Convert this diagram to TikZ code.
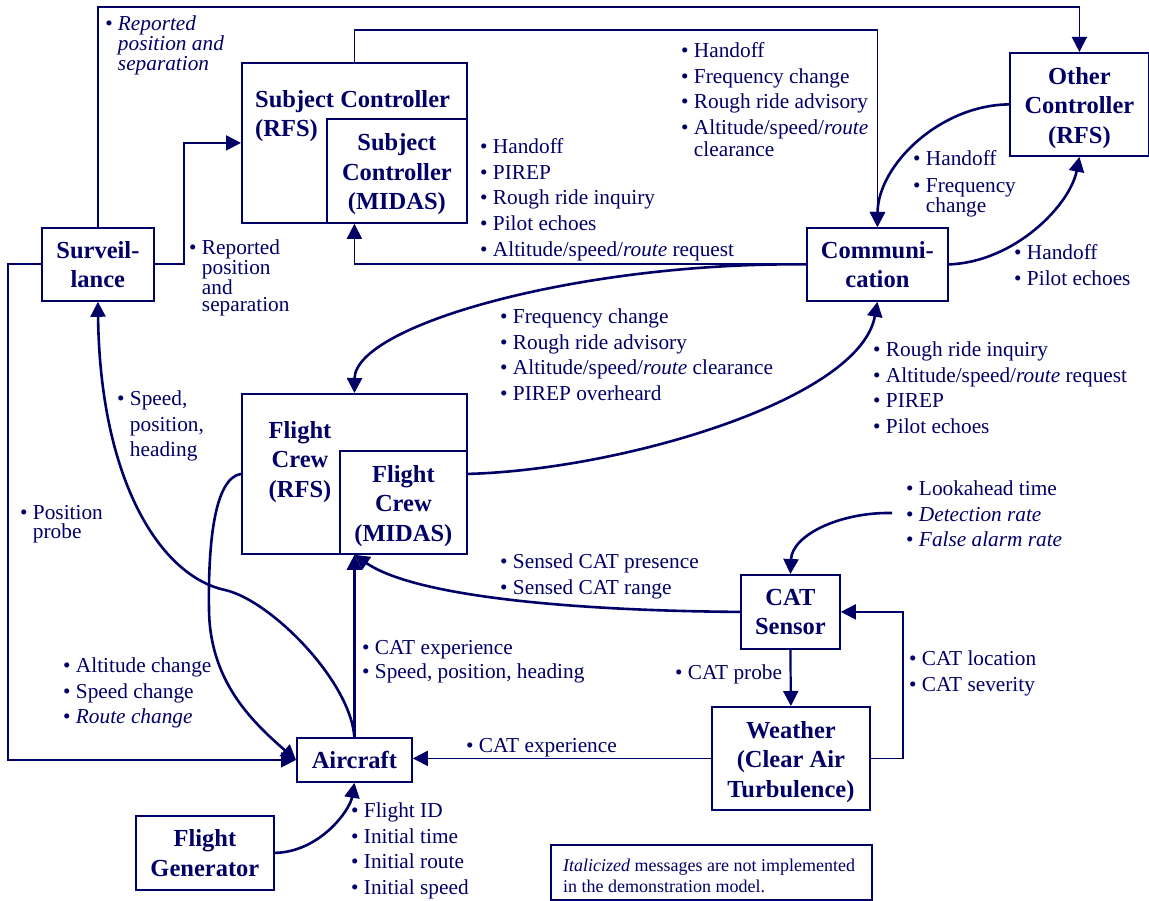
\documentclass[tikz,border=0pt]{standalone}
\usepackage{fontspec}
\setmainfont{Liberation Serif}
\usetikzlibrary{arrows.meta}
\definecolor{navy}{RGB}{0,0,102}
\newcommand\ind{\hspace*{0.6em}}
% taller first line, lowers a three-line box title a little
\newcommand\tl{\rule{0pt}{23.5pt}}
\tikzset{
  box/.style={draw=navy, line width=1.8pt, inner sep=0pt, anchor=north west,
              text=navy, align=center, font=\fontsize{24.5}{29.5}\selectfont\bfseries},
  % multi-line texts placed by the baseline of their first line
  title/.style={text=navy, inner sep=0pt, yshift=16pt,
                font=\fontsize{24.5}{29.5}\selectfont\bfseries},
  msg/.style={text=navy, align=left, inner sep=0pt, anchor=north west, yshift=14.5pt,
              font=\fontsize{21.3}{25.6}\selectfont},
  link/.style={draw=navy, line width=1.8pt, -{Triangle[length=15pt,width=15pt]}},
  curve/.style={link, line width=2.6pt},
}
\begin{document}
\begin{tikzpicture}[x=1pt,y=-1pt]
\useasboundingbox (0,0) rectangle (1149,901);

% ---- boxes ----
\node[box, minimum width=225pt, minimum height=160pt] (scrfs) at (241,62) {};
\node[title, anchor=north west, align=left] (scrfsT) at (255,106) {Subject Controller\\(RFS)};
\node[box, minimum width=140pt, minimum height=104pt] (scm) at (326,118) {\tl Subject\\Controller\\(MIDAS)};
\node[box, minimum width=112pt, minimum height=73pt] (surv) at (41,227) {Surveil-\\lance};
\node[box, minimum width=139pt, minimum height=103pt] (oc) at (1009,52) {\tl Other\\Controller\\(RFS)};
\node[box, minimum width=141pt, minimum height=73pt] (comm) at (806,227) {Communi-\\cation};
\node[box, minimum width=225pt, minimum height=160pt] (fcrfs) at (241,393) {};
\node[title, anchor=north, align=center] (fcrfsT) at (300,437) {Flight\\Crew\\(RFS)};
\node[box, minimum width=127pt, minimum height=103pt] (fcm) at (339,450) {\tl Flight\\Crew\\(MIDAS)};
\node[box, minimum width=99pt, minimum height=74pt] (cat) at (740,574) {CAT\\Sensor};
\node[box, minimum width=158pt, minimum height=103pt] (wx) at (711,706) {\tl Weather\\(Clear Air\\Turbulence)};
\node[box, minimum width=115pt, minimum height=44pt] (ac) at (296,737) {Aircraft};
\node[box, minimum width=138pt, minimum height=74pt] (fg) at (135,815) {Flight\\Generator};
\node[draw=navy, line width=1.5pt, anchor=north west, minimum width=321pt,
      minimum height=55pt, inner sep=0pt] (note) at (550,844) {};
\node[msg, yshift=-6pt, font=\fontsize{18}{21}\selectfont] (noteT) at (563,867)
  {\textit{Italicized} messages are not implemented\\in the demonstration model.};

\coordinate (topy) at (0,7);
\coordinate (lkh) at (892,513);

% ---- connectors ----
\draw[link] (surv.north) -- (surv.north |- topy) -| (oc.north);
\draw[link] (scrfs.north) -- ++(0,-32) -| (comm.north);
\draw[link] (surv.east) -- ++(29,0) |- (scrfs.west);
\draw[link] (comm.west) -| (scrfs.south);
\draw[curve] (oc.west) .. controls (940,105) and (878,165) .. (comm.north);
\draw[curve] (comm.east) .. controls (1015,262) and (1070,205) .. (oc.south);
\draw[curve] (comm.west) .. controls (580,262) and (355,325) .. (fcrfs.north);
\draw[curve] (fcrfs.east) .. controls (620,470) and (860,400) .. (comm.south);
\draw[curve] (lkh) .. controls (840,512) and (792,535) .. (cat.north);
\draw[curve] (cat.west) .. controls (600,611) and (420,600) .. (fcrfs.south);
\draw[link, line width=2.2pt] (ac.north) -- (fcrfs.south);
\draw[curve] (ac.north) .. controls (350,680) and (270,600) .. (225,590)
             .. controls (160,576) and (100,480) .. (surv.south);
\draw[curve] (fcrfs.west) .. controls (215,478) and (208,540) .. (209,610)
             .. controls (210,680) and (250,720) .. (ac.west);
\draw[link] (surv.west) -- ++(-33,0) |- (ac.west);
\draw[curve] (fg.east) .. controls (320,852) and (350,810) .. (ac.south);
\draw[link, line width=2.2pt] (cat.south) -- (wx.north);
\draw[link] (wx.east) -- ++(32,0) |- (cat.east);
\draw[link] (wx.west) -- (wx.west -| ac.east);

% ---- message lists ----
\node[msg, font=\fontsize{21.3}{18}\selectfont\itshape] (m1) at (105,30)
  {• Reported\\\ind position and\\\ind separation};
\node[msg, font=\fontsize{21.3}{17.5}\selectfont] (m2) at (189,254)
  {• Reported\\\ind position\\\ind and\\\ind separation};
\node[msg] (m3) at (480,153)
  {• Handoff\\• PIREP\\• Rough ride inquiry\\• Pilot echoes\\• Altitude/speed/\textit{route} request};
\node[msg] (m4) at (681,57)
  {• Handoff\\• Frequency change\\• Rough ride advisory\\• Altitude/speed/\textit{route}\\[-3.5pt]\ind clearance};
\node[msg] (m5) at (913,165) {• Handoff\\[1.5pt]• Frequency\\[-5.5pt]\ind change};
\node[msg] (m6) at (1014,259) {• Handoff\\• Pilot echoes};
\node[msg] (m7) at (500,323)
  {• Frequency change\\• Rough ride advisory\\• Altitude/speed/\textit{route} clearance\\• PIREP overheard};
\node[msg] (m8) at (873,356)
  {• Rough ride inquiry\\• Altitude/speed/\textit{route} request\\• PIREP\\• Pilot echoes};
\node[msg] (m9) at (906,495) {• Lookahead time\\• \textit{Detection rate}\\• \textit{False alarm rate}};
\node[msg] (m10) at (500,568) {• Sensed CAT presence\\• Sensed CAT range};
\node[msg] (m11) at (117,405) {• Speed,\\\ind position,\\\ind heading};
\node[msg, font=\fontsize{21.3}{18.5}\selectfont] (m12) at (20,520) {• Position\\\ind probe};
\node[msg] (m13) at (63,672) {• Altitude change\\• Speed change\\• \textit{Route change}};
\node[msg] (m14) at (362,655) {• CAT experience\\[-1.5pt]• Speed, position, heading};
\node[msg] (m15) at (466,753) {• CAT experience};
\node[msg] (m16) at (351,817) {• Flight ID\\• Initial time\\• Initial route\\• Initial speed};
\node[msg] (m17) at (675,679) {• CAT probe};
\node[msg] (m18) at (909,665) {• CAT location\\• CAT severity};
\end{tikzpicture}
\end{document}
